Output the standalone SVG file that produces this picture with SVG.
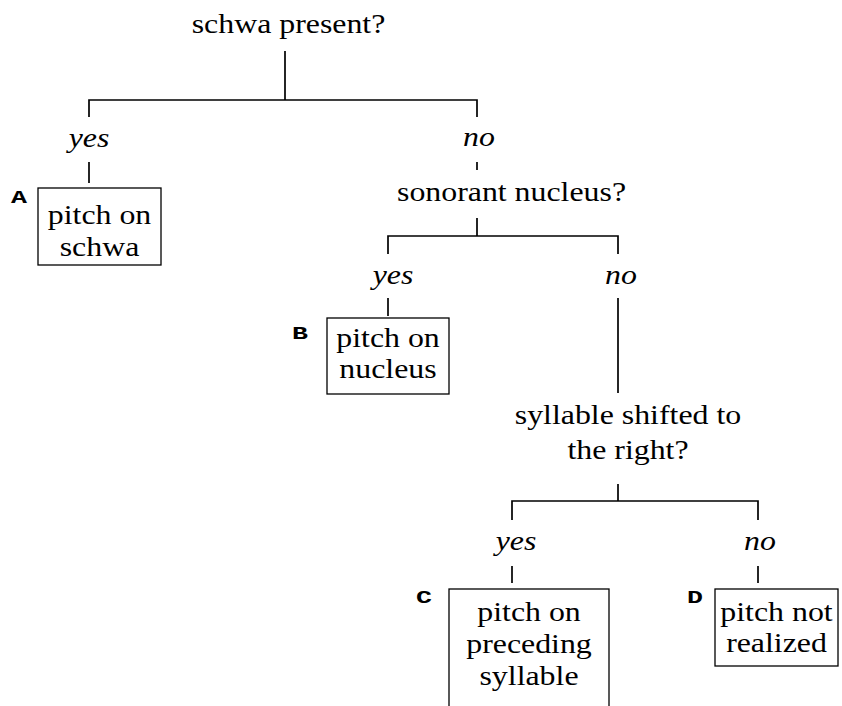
<svg xmlns="http://www.w3.org/2000/svg" width="842" height="706" viewBox="0 0 842 706">
<style>
  .t { font-size: 27px; fill: #000; text-anchor: middle; }
  .i { font-style: italic; }
  .lab { font-size: 19px; font-weight: bold; fill: #000; text-anchor: middle; }
  .box { fill: #fff; stroke: #000; stroke-width: 1.3; }
  .ln { stroke: #000; stroke-width: 1.7; fill: none; }
</style>
<rect width="842" height="706" fill="#fff"/>
<g id="connectors">
  <path class="ln" d="M285 51 V100 M89 117 V100 H477 V117"/>
  <path class="ln" d="M89 162 V183"/>
  <path class="ln" d="M477 162 V170"/>
  <path class="ln" d="M477 218 V236 M388 254 V236 H618 V254"/>
  <path class="ln" d="M388 298 V316"/>
  <path class="ln" d="M618 298 V393"/>
  <path class="ln" d="M618 484 V501 M512 520 V501 H758 V520"/>
  <path class="ln" d="M512 566 V583"/>
  <path class="ln" d="M758 566 V583"/>
</g>
<g font-family="Liberation Serif, serif">
<g id="q1">
  <text class="t" transform="translate(288.5,33) scale(1.18,1)">schwa present?</text>
</g>
<g id="q1-yes"><text class="t i" transform="translate(89,147) scale(1.18,1)">yes</text></g>
<g id="q1-no"><text class="t i" transform="translate(479,146) scale(1.18,1)">no</text></g>
<g id="A">
  <text class="lab" font-family="Liberation Mono, monospace" transform="translate(19,203) scale(1.4,1)">A</text>
  <rect class="box" x="38" y="188" width="123" height="77"/>
  <text class="t" transform="translate(99.5,224) scale(1.18,1)"><tspan x="0" y="0">pitch on</tspan><tspan x="0" y="32">schwa</tspan></text>
</g>
<g id="q2">
  <text class="t" transform="translate(511.5,201) scale(1.18,1)">sonorant nucleus?</text>
</g>
<g id="q2-yes"><text class="t i" transform="translate(393,284) scale(1.18,1)">yes</text></g>
<g id="q2-no"><text class="t i" transform="translate(621,284) scale(1.18,1)">no</text></g>
<g id="B">
  <text class="lab" font-family="Liberation Mono, monospace" transform="translate(300,339) scale(1.4,1)">B</text>
  <rect class="box" x="327" y="318" width="122" height="76"/>
  <text class="t" transform="translate(388,347) scale(1.18,1)"><tspan x="0" y="0">pitch on</tspan><tspan x="0" y="31">nucleus</tspan></text>
</g>
<g id="q3">
  <text class="t" transform="translate(628,424) scale(1.18,1)"><tspan x="0" y="0">syllable shifted to</tspan><tspan x="0" y="35">the right?</tspan></text>
</g>
<g id="q3-yes"><text class="t i" transform="translate(516,550) scale(1.18,1)">yes</text></g>
<g id="q3-no"><text class="t i" transform="translate(760,550) scale(1.18,1)">no</text></g>
<g id="C">
  <text class="lab" font-family="Liberation Mono, monospace" transform="translate(424,603) scale(1.4,1)">C</text>
  <rect class="box" x="449" y="589" width="160" height="140"/>
  <text class="t" transform="translate(529,621) scale(1.18,1)"><tspan x="0" y="0">pitch on</tspan><tspan x="0" y="32">preceding</tspan><tspan x="0" y="64">syllable</tspan></text>
</g>
<g id="D">
  <text class="lab" font-family="Liberation Mono, monospace" transform="translate(695,603) scale(1.4,1)">D</text>
  <rect class="box" x="715" y="589" width="123" height="77"/>
  <text class="t" transform="translate(776.5,621) scale(1.18,1)"><tspan x="0" y="0">pitch not</tspan><tspan x="0" y="31">realized</tspan></text>
</g>
</g>
</svg>
